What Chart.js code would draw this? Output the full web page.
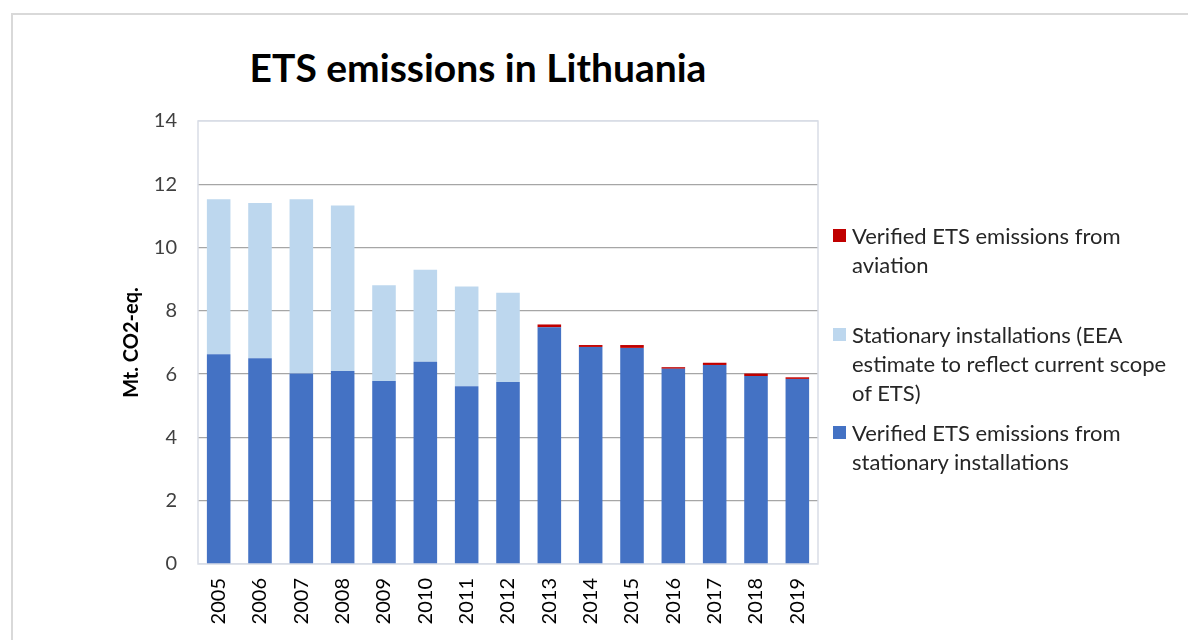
<!DOCTYPE html>
<html>
<head>
<meta charset="utf-8">
<script src="https://cdn.jsdelivr.net/npm/chart.js@4.4.1/dist/chart.umd.min.js"></script>
<style>
  html, body { margin: 0; padding: 0; background: #fff; }
  body { width: 1188px; height: 640px; position: relative; overflow: hidden; font-family: Lato, "Open Sans", sans-serif; }
  #frame { position: absolute; left: 11px; top: 13px; width: 1200px; height: 700px; border: 2px solid #d9d9d9; box-sizing: border-box; }
  #title { position: absolute; left: 0; width: 956px; top: 44px; text-align: center; font-weight: bold; font-size: 39px; color: #000; }
  #wrap { position: absolute; left: 0; top: 0; width: 1188px; height: 640px; }
  .legItem { position: absolute; left: 833px; font-size: 22px; line-height: 29px; color: #262626; }
  .legBox { position: absolute; left: 0; top: 8px; width: 13px; height: 13px; }
  .legText { margin-left: 19px; white-space: nowrap; }
</style>
</head>
<body>
<div id="frame"></div>
<div id="title">ETS emissions in Lithuania</div>
<div id="wrap"><canvas id="etsChart"></canvas></div>
<div id="legend"></div>
<script>
// -------------------------------
// DATA (Mt CO2-eq.)
// -------------------------------
const years = ["2005", "2006", "2007", "2008", "2009", "2010", "2011", "2012",
               "2013", "2014", "2015", "2016", "2017", "2018", "2019"];

const verifiedStationary = [6.63, 6.50, 6.02, 6.10, 5.78, 6.39, 5.62, 5.75,
                            7.48, 6.86, 6.83, 6.17, 6.29, 5.94, 5.85];

const eeaEstimate = [4.90, 4.91, 5.51, 5.23, 3.03, 2.91, 3.15, 2.82,
                     0, 0, 0, 0, 0, 0, 0];

const aviation = [0, 0, 0, 0, 0, 0, 0, 0,
                  0.09, 0.06, 0.09, 0.05, 0.07, 0.08, 0.05];

const yTicks = [0, 2, 4, 6, 8, 10, 12, 14];

const seriesLabels = [
  "Verified ETS emissions from stationary installations",
  "Stationary installations (EEA estimate to reflect current scope of ETS)",
  "Verified ETS emissions from aviation"
];

// wrapped legend lines, as in the original
const legendLines = [
  ["Verified ETS emissions from", "stationary installations"],
  ["Stationary installations (EEA", "estimate to reflect current scope", "of ETS)"],
  ["Verified ETS emissions from", "aviation"]
];

const colors = ["#4472C4", "#BDD7EE", "#C00000"];

// -------------------------------
// LEGEND (html, right side)
// -------------------------------
function renderLegend() {
  const legend = document.getElementById("legend");
  const tops = [418, 320, 221]; // stationary, estimate, aviation
  [2, 1, 0].forEach(i => {
    const item = document.createElement("div");
    item.className = "legItem";
    item.style.top = tops[i] + "px";
    const box = document.createElement("div");
    box.className = "legBox";
    box.style.background = colors[i];
    const text = document.createElement("div");
    text.className = "legText";
    text.innerHTML = legendLines[i].join("<br>");
    item.appendChild(box);
    item.appendChild(text);
    legend.appendChild(item);
  });
}

// -------------------------------
// CHART
// -------------------------------
const plotFrame = {
  id: "plotFrame",
  beforeDatasetsDraw(chart) {
    const { ctx, chartArea: a } = chart;
    ctx.save();
    ctx.strokeStyle = "#d9dde6";
    ctx.lineWidth = 1.5;
    ctx.strokeRect(a.left, a.top, a.right - a.left, a.bottom - a.top);
    ctx.restore();
  }
};

function renderChart() {
  const ctx = document.getElementById("etsChart").getContext("2d");
  const mkSet = (label, data, color) => ({
    label: label,
    data: data,
    backgroundColor: color,
    borderWidth: 0,
    barPercentage: 1,
    categoryPercentage: 0.57
  });

  new Chart(ctx, {
    type: "bar",
    data: {
      labels: years,
      datasets: [
        mkSet(seriesLabels[0], verifiedStationary, colors[0]),
        mkSet(seriesLabels[1], eeaEstimate, colors[1]),
        mkSet(seriesLabels[2], aviation, colors[2])
      ]
    },
    options: {
      responsive: false,
      animation: false,
      layout: { padding: { left: 120, right: 370, top: 121, bottom: 0 } },
      plugins: {
        legend: { display: false },
        tooltip: { enabled: false }
      },
      scales: {
        x: {
          stacked: true,
          grid: { display: false },
          border: { display: false },
          ticks: {
            color: "#000",
            font: { family: "Lato", size: 20 },
            minRotation: 90,
            maxRotation: 90,
            padding: 6
          },
          afterFit: s => { s.height = 76; }
        },
        y: {
          stacked: true,
          min: 0,
          max: 14,
          afterBuildTicks: s => { s.ticks = yTicks.map(v => ({ value: v })); },
          grid: {
            drawTicks: false,
            color: c => (c.tick && (c.tick.value === 0 || c.tick.value === 14)) ? "#d9dde6" : "#a6a6a6",
            lineWidth: 1.3
          },
          border: { display: false },
          ticks: {
            color: "#404040",
            font: { family: "Lato", size: 20 },
            padding: 21
          },
          title: {
            display: true,
            text: "Mt. CO2-eq.",
            color: "#000",
            font: { family: "Lato", size: 20, weight: "bold" },
            padding: 0
          },
          afterFit: s => { s.width = 78; }
        }
      }
    },
    plugins: [plotFrame]
  });
}

document.addEventListener("DOMContentLoaded", () => {
  const c = document.getElementById("etsChart");
  c.width = 1188;
  c.height = 640;
  renderChart();
  renderLegend();
});
</script>
</body>
</html>
